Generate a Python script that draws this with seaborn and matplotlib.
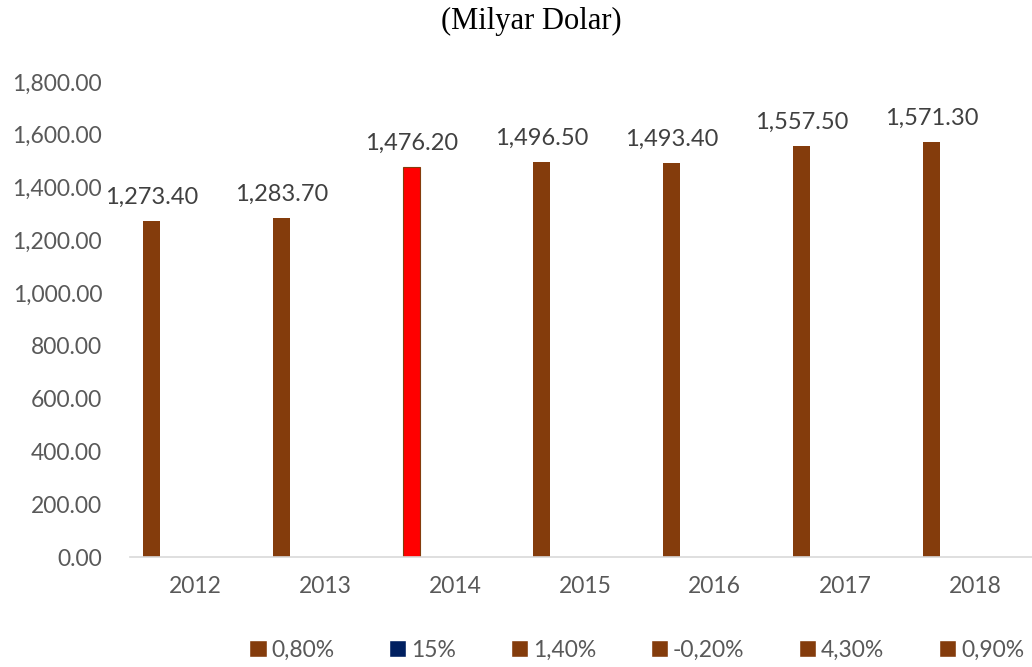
import pandas as pd
import matplotlib.pyplot as plt
import seaborn as sns
from matplotlib.patches import Patch
from matplotlib.ticker import FuncFormatter

# data
years = ['2012', '2013', '2014', '2015', '2016', '2017', '2018']
values = [1273.40, 1283.70, 1476.20, 1496.50, 1493.40, 1557.50, 1571.30]
series = ['0,80%', '15%', '1,40%', '-0,20%', '4,30%', '0,90%']
series_colors = ['#843C0C', '#002060', '#843C0C', '#843C0C', '#843C0C', '#843C0C']
highlight_year = '2014'

sns.set_theme(style='white')
plt.rcParams['font.family'] = ['Lato', 'DejaVu Sans']

# only the first series carries values, the others are empty
rows = []
for s in series:
    for y, v in zip(years, values):
        rows.append({'year': y, 'series': s, 'value': v if s == series[0] else 0.0})
df = pd.DataFrame(rows)

fig = plt.figure(figsize=(10.32, 6.67), dpi=100)
ax = fig.add_axes([130 / 1032, 110 / 667, 902 / 1032, 475 / 667])

sns.barplot(data=df, x='year', y='value', hue='series', hue_order=series,
            order=years, palette=series_colors, width=0.8, linewidth=0,
            saturation=1, legend=False, ax=ax)

# first series bars are the first len(years) patches
first_bars = ax.patches[:len(years)]
for y, bar in zip(years, first_bars):
    if y == highlight_year:
        bar.set_facecolor('#FF0000')
        bar.set_edgecolor('#843C0C')
        bar.set_linewidth(0.8)
    ax.text(bar.get_x() + bar.get_width() / 2, bar.get_height() + 50,
            f'{bar.get_height():,.2f}', ha='center', va='bottom',
            fontsize=17, color='#404040')

ax.set_xlim(-0.5, 6.44)
ax.set_ylim(0, 1800)
ax.set_yticks(range(0, 1801, 200))
ax.yaxis.set_major_formatter(FuncFormatter(lambda v, p: f'{v:,.2f}'))
ax.set_xlabel('')
ax.set_ylabel('')
ax.tick_params(axis='y', length=0, pad=20, labelsize=16.5, labelcolor='#595959')
ax.tick_params(axis='x', length=0, pad=14, labelsize=16.5, labelcolor='#595959')

for side in ['top', 'right', 'left']:
    ax.spines[side].set_visible(False)
ax.spines['bottom'].set_color('#D9D9D9')
ax.spines['bottom'].set_linewidth(1.2)

fig.text(0.515, 0.968, '(Milyar Dolar)', ha='center', va='center',
         fontsize=22, family=['Liberation Serif'], color='black')

handles = [Patch(facecolor=c, label=s) for s, c in zip(series, series_colors)]
fig.legend(handles=handles, loc='center', bbox_to_anchor=(0.617, 0.025), ncol=6,
           frameon=False, fontsize=16.5, labelcolor='#595959',
           handlelength=0.75, handleheight=0.75, handletextpad=0.2,
           columnspacing=2.4, borderaxespad=0, borderpad=0)

fig.savefig('out.png', dpi=100)
